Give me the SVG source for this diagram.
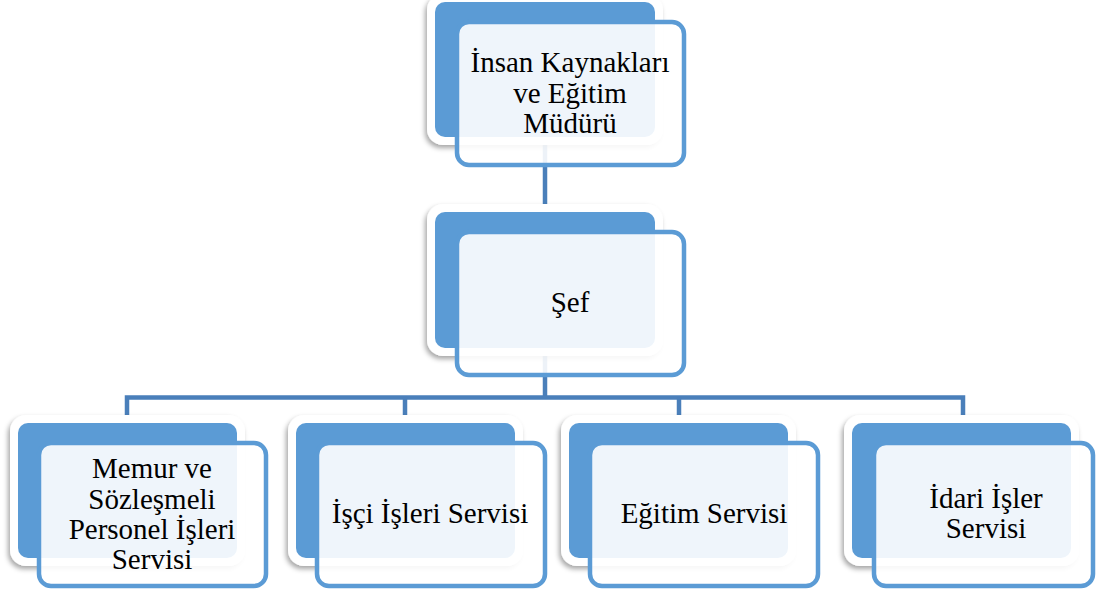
<svg xmlns="http://www.w3.org/2000/svg" width="1096" height="592" viewBox="0 0 1096 592">
<defs>
<filter id="sh" x="-10%" y="-10%" width="120%" height="125%">
<feDropShadow dx="-2" dy="3" stdDeviation="2.5" flood-color="#000" flood-opacity="0.35"/>
</filter>
<style>
.bw{fill:#fff;filter:url(#sh);}
.bb{fill:#5b9bd5;}
.fr{fill:#fff;fill-opacity:0.9;stroke:#5b9bd5;stroke-width:4.5;}
.t{font-family:"Liberation Serif","Times New Roman",serif;font-size:29px;fill:#000;text-anchor:middle;}
.c{fill:none;stroke:#4a7fba;stroke-width:4.5;}
</style>
</defs>
<rect width="1096" height="592" fill="#fff"/>
<g id="connectors">
<path class="c" d="M545 137V212"/>
<path class="c" d="M545 348V397.5"/>
<path class="c" d="M127 423V397.5H963V423"/>
<path class="c" d="M405 397.5V423"/>
<path class="c" d="M679 397.5V423"/>
</g>
<g id="n-mudur">
<rect class="bw" x="427" y="-6" width="236" height="151" rx="16"/>
<rect class="bb" x="435" y="2" width="220" height="135" rx="10"/>
<rect class="fr" x="457" y="22" width="227" height="143" rx="12"/>
<text class="t" x="570" y="72">İnsan Kaynakları</text>
<text class="t" x="570" y="103">ve Eğitim</text>
<text class="t" x="570" y="133">Müdürü</text>
</g>
<g id="n-sef">
<rect class="bw" x="427" y="204" width="236" height="152" rx="16"/>
<rect class="bb" x="435" y="212" width="220" height="136" rx="10"/>
<rect class="fr" x="457" y="232" width="227" height="143" rx="12"/>
<text class="t" x="570" y="312">Şef</text>
</g>
<g id="n-memur">
<rect class="bw" x="10" y="415" width="235" height="151" rx="16"/>
<rect class="bb" x="18" y="423" width="219" height="135" rx="10"/>
<rect class="fr" x="39" y="443" width="227" height="143" rx="12"/>
<text class="t" x="152" y="478">Memur ve</text>
<text class="t" x="152" y="509">Sözleşmeli</text>
<text class="t" x="152" y="539">Personel İşleri</text>
<text class="t" x="152" y="569">Servisi</text>
</g>
<g id="n-isci">
<rect class="bw" x="288" y="415" width="235" height="151" rx="16"/>
<rect class="bb" x="296" y="423" width="219" height="135" rx="10"/>
<rect class="fr" x="317" y="443" width="228" height="143" rx="12"/>
<text class="t" x="430" y="523">İşçi İşleri Servisi</text>
</g>
<g id="n-egitim">
<rect class="bw" x="561" y="415" width="235" height="151" rx="16"/>
<rect class="bb" x="569" y="423" width="219" height="135" rx="10"/>
<rect class="fr" x="590" y="443" width="228" height="143" rx="12"/>
<text class="t" x="704" y="523">Eğitim Servisi</text>
</g>
<g id="n-idari">
<rect class="bw" x="844" y="415" width="235" height="151" rx="16"/>
<rect class="bb" x="852" y="423" width="219" height="135" rx="10"/>
<rect class="fr" x="874" y="443" width="219" height="143" rx="12"/>
<text class="t" x="986" y="508">İdari İşler</text>
<text class="t" x="986" y="538">Servisi</text>
</g>
</svg>
